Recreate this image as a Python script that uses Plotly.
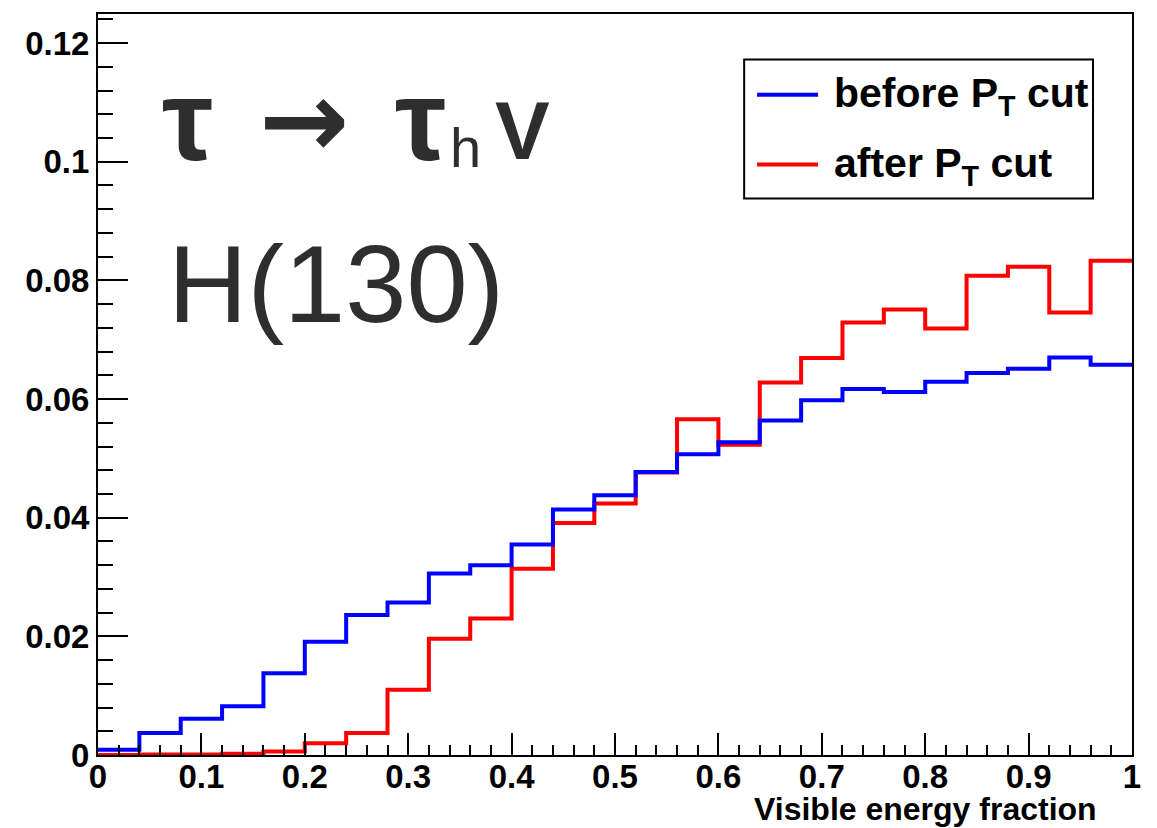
import plotly.graph_objects as go

# ---- data ----
bin_edges = [round(0.04 * i, 2) for i in range(26)]
before_pt_cut = [0.0009, 0.0037, 0.0061, 0.0082, 0.0138, 0.0191, 0.0236, 0.0257, 0.0306, 0.0320,
                 0.0355, 0.0414, 0.0438, 0.0477, 0.0507, 0.0527, 0.0564, 0.0598, 0.0617, 0.0612,
                 0.0629, 0.0644, 0.0651, 0.0670, 0.0658]
after_pt_cut = [0.0000, 0.0001, 0.0001, 0.0002, 0.0006, 0.0020, 0.0037, 0.0110, 0.0196, 0.0230,
                0.0314, 0.0391, 0.0424, 0.0476, 0.0566, 0.0523, 0.0628, 0.0669, 0.0729, 0.0751,
                0.0719, 0.0808, 0.0823, 0.0746, 0.0833]
series_names = ["before P<sub>T</sub> cut", "after P<sub>T</sub> cut"]
series_colors = ["#0000ff", "#ff0000"]
x_ticks = [0, 0.1, 0.2, 0.3, 0.4, 0.5, 0.6, 0.7, 0.8, 0.9, 1.0]
x_ticktext = ["0", "0.1", "0.2", "0.3", "0.4", "0.5", "0.6", "0.7", "0.8", "0.9", "1"]
y_ticks = [0, 0.02, 0.04, 0.06, 0.08, 0.1, 0.12]
y_ticktext = ["0", "0.02", "0.04", "0.06", "0.08", "0.1", "0.12"]


def step_xy(edges, vals):
    return list(edges), list(vals) + [vals[-1]]


FONT = "Liberation Sans, Arial, Helvetica, sans-serif"
TXT = "#2e2e2e"

fig = go.Figure()
# red drawn first so blue lies on top
xr, yr = step_xy(bin_edges, after_pt_cut)
fig.add_trace(go.Scatter(x=xr, y=yr, mode="lines", line=dict(color=series_colors[1], width=4, shape="hv"),
                         name=series_names[1], showlegend=False))
xb, yb = step_xy(bin_edges, before_pt_cut)
fig.add_trace(go.Scatter(x=xb, y=yb, mode="lines", line=dict(color=series_colors[0], width=4, shape="hv"),
                         name=series_names[0], showlegend=False))

tickfont = dict(family=FONT, size=33, color="black", weight="bold")

fig.update_xaxes(range=[0, 1], tickvals=x_ticks, ticktext=x_ticktext, ticks="inside", ticklen=22,
                 tickwidth=2, tickcolor="black", showline=True, linewidth=2, linecolor="black",
                 mirror=True, showgrid=False, zeroline=False, tickfont=tickfont, ticklabelstandoff=-9,
                 minor=dict(dtick=0.02, tick0=0, ticks="inside", ticklen=10, tickwidth=2, tickcolor="black",
                            showgrid=False))
fig.update_yaxes(range=[0, 0.1249], tickvals=y_ticks, ticktext=y_ticktext, ticks="inside", ticklen=30,
                 tickwidth=2, tickcolor="black", showline=True, linewidth=2, linecolor="black",
                 mirror=True, showgrid=False, zeroline=False, tickfont=tickfont,
                 minor=dict(dtick=0.004, tick0=0, ticks="inside", ticklen=15, tickwidth=2, tickcolor="black",
                            showgrid=False))

# tau -> tau_h V label, pieced together
fig.add_annotation(text="τ", xref="x", yref="y", x=0.060, y=0.1070, xanchor="left", yanchor="middle",
                   showarrow=False, font=dict(family=FONT, size=115, color=TXT, weight="bold"))
fig.add_annotation(text="→", xref="x", yref="y", x=0.1995, y=0.1072, xanchor="center", yanchor="middle",
                   showarrow=False, font=dict(family="DejaVu Sans", size=108, color=TXT, weight="bold"))
fig.add_annotation(text="τ", xref="x", yref="y", x=0.285, y=0.1070, xanchor="left", yanchor="middle",
                   showarrow=False, font=dict(family=FONT, size=115, color=TXT, weight="bold"))
fig.add_annotation(text="h", xref="x", yref="y", x=0.3387, y=0.1024, xanchor="left", yanchor="middle",
                   showarrow=False, font=dict(family=FONT, size=56, color=TXT))
fig.add_annotation(text="V", xref="x", yref="y", x=0.3822, y=0.1052, xanchor="left", yanchor="middle",
                   showarrow=False, font=dict(family=FONT, size=82, color=TXT, weight="bold"))

fig.add_annotation(text="H(130)", xref="x", yref="y", x=0.066, y=0.0795,
                   xanchor="left", yanchor="middle", showarrow=False,
                   font=dict(family=FONT, size=110, color=TXT))
fig.add_annotation(text="Visible energy fraction", xref="paper", yref="paper", x=0.968, y=-0.0465,
                   xanchor="right", yanchor="top", showarrow=False,
                   font=dict(family=FONT, size=32, color="black", weight="bold"))

# legend box (drawn by hand to match the ROOT TLegend)
fig.add_shape(type="rect", xref="paper", yref="paper", x0=0.6249, x1=0.9623, y0=0.7510, y1=0.9386,
              line=dict(color="black", width=2), fillcolor="white", layer="above")
legend_line_y = [0.8910, 0.7968]
legend_text_y = [0.8890, 0.7947]
for i in range(2):
    fig.add_shape(type="line", xref="paper", yref="paper", x0=0.6374, x1=0.6964,
                  y0=legend_line_y[i], y1=legend_line_y[i],
                  line=dict(color=series_colors[i], width=4), layer="above")
    fig.add_annotation(text=series_names[i], xref="paper", yref="paper", x=0.7094, y=legend_text_y[i],
                       xanchor="left", yanchor="middle", showarrow=False,
                       font=dict(family=FONT, size=41, color="black", weight="bold"))

fig.update_layout(
    width=1157, height=828,
    margin=dict(l=98, r=25, t=12, b=73),
    paper_bgcolor="white", plot_bgcolor="white",
    showlegend=False,
)

fig.write_html("out.html")
